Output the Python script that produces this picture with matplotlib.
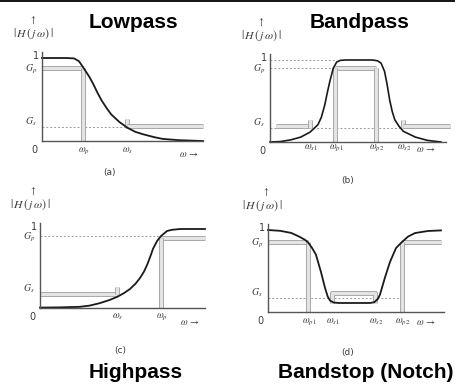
import matplotlib
matplotlib.use('Agg')
import matplotlib.pyplot as plt
import matplotlib.patheffects as pe
from matplotlib.lines import Line2D

plt.rcParams['mathtext.fontset'] = 'stix'

# ---- data (omega in arbitrary units 0..10, gain 0..1) ----
# (a) lowpass
lp_w = [0, 1.5, 2.0, 2.3, 2.55, 2.75, 2.95, 3.2, 3.45, 3.7, 4.0, 4.3, 4.8, 5.3, 5.8, 6.3, 7.0, 7.5, 8.5, 10]
lp_h = [1.0, 1.0, 0.995, 0.96, 0.89, 0.83, 0.77, 0.68, 0.58, 0.49, 0.4, 0.32, 0.23, 0.16, 0.11, 0.08,
        0.045, 0.025, 0.01, 0.0]
lp_gp, lp_gs = 0.88, 0.17
lp_edges = [2.55, 5.28]           # wp, ws
lp_ticks = [r'$\omega_p$', r'$\omega_s$']

# (b) bandpass
bp_w = [0, 0.6, 1.2, 1.8, 2.34, 2.8, 3.0, 3.2, 3.35, 3.5, 3.7, 3.9, 4.1, 4.4, 6.0, 6.3, 6.5, 6.7,
        6.85, 7.0, 7.15, 7.3, 7.55, 7.8, 8.5, 9.2, 10]
bp_h = [0.0, 0.005, 0.025, 0.06, 0.12, 0.21, 0.3, 0.45, 0.6, 0.74, 0.9, 0.975, 0.995, 1.0, 1.0, 0.99, 0.96,
        0.86, 0.7, 0.51, 0.37, 0.27, 0.19, 0.13, 0.06, 0.02, 0.0]
bp_gp, bp_gs = 0.9, 0.17
bp_edges = [2.34, 3.8, 6.2, 7.78]  # ws1, wp1, wp2, ws2
bp_ticks = [r'$\omega_{s1}$', r'$\omega_{p1}$', r'$\omega_{p2}$', r'$\omega_{s2}$']

# (c) highpass
hp_w = [0, 1.2, 2.4, 3.0, 3.6, 4.2, 4.67, 5.1, 5.45, 5.8, 6.06, 6.3, 6.5, 6.7, 6.85, 7.1, 7.33, 7.7, 8.0,
        8.5, 10]
hp_h = [0.005, 0.008, 0.015, 0.03, 0.06, 0.1, 0.14, 0.19, 0.24, 0.31, 0.38, 0.46, 0.55, 0.66, 0.75, 0.85,
        0.91, 0.975, 0.99, 1.0, 1.0]
hp_gp, hp_gs = 0.91, 0.18
hp_edges = [4.67, 7.33]           # ws, wp
hp_ticks = [r'$\omega_s$', r'$\omega_p$']

# (d) bandstop
bs_w = [0, 0.7, 1.33, 1.8, 2.14, 2.31, 2.55, 2.77, 3.06, 3.3, 3.45, 3.58, 3.8, 4.1, 5.9, 6.15, 6.35,
        6.47, 6.76, 7.05, 7.4, 7.75, 8.1, 8.5, 9.25, 10]
bs_h = [1.0, 0.99, 0.965, 0.92, 0.88, 0.85, 0.78, 0.7, 0.49, 0.29, 0.19, 0.14, 0.115, 0.11, 0.11, 0.12, 0.16,
        0.21, 0.42, 0.61, 0.78, 0.855, 0.92, 0.963, 0.988, 0.995]
bs_gp, bs_gs = 0.854, 0.17
bs_edges = [2.31, 3.7, 6.18, 7.75]  # wp1, ws1, ws2, wp2
bs_ticks = [r'$\omega_{p1}$', r'$\omega_{s1}$', r'$\omega_{s2}$', r'$\omega_{p2}$']

W, H = 456, 385
fig = plt.figure(figsize=(W / 100, H / 100), dpi=100)
fig.patch.set_facecolor('white')
fig.add_artist(Line2D([0, 1], [1 - 0.8 / H] * 2, color='black', lw=1.3, transform=fig.transFigure))

TXT = '#3c3c3c'
SPEC = dict(color='#e4e4e4', lw=2.2, solid_capstyle='butt',
            path_effects=[pe.Stroke(linewidth=3.6, foreground='#a9a9a9'), pe.Normal()])
DOT = dict(color='#9a9a9a', lw=0.7, ls=(0, (2, 2)))


def panel(ox, oy, sx, sy):
    # place an axes so that data (0,0) sits at pixel (ox, oy) and (1, 1) at (ox+sx, oy-sy)
    x0, x1, y0, y1 = -3.0, 12.5, -0.8, 1.6
    left, right = ox + x0 * sx, ox + x1 * sx
    top, bottom = oy - y1 * sy, oy - y0 * sy
    ax = fig.add_axes([left / W, 1 - bottom / H, (right - left) / W, (bottom - top) / H])
    ax.set_xlim(x0, x1)
    ax.set_ylim(y0, y1)
    ax.axis('off')
    ax.patch.set_alpha(0)
    return ax


def lab(ax, s, xy, dx, dy, size=7):
    # offsets given in pixels
    ax.annotate(s, xy=xy, xycoords='data', xytext=(dx * 0.72, dy * 0.72), textcoords='offset points',
                ha='center', va='center', color=TXT, fontsize=size)


def frame(ax, gp, gs, xend, ticks, edges, tick_dy, arrow_dy, cap, cap_x, cap_dy, hx, arr_x):
    ax.plot([0, 0], [0, 1.07], color='#555555', lw=1.0)
    ax.plot([0, xend], [0, 0], color='#555555', lw=1.0)
    lab(ax, '0', (0, 0), -8, -9)
    lab(ax, '1', (0, 1), -6, 2)
    lab(ax, r'$G_p$', (0, gp), -11, -1)
    lab(ax, r'$G_s$', (0, gs), -11, 5)
    for t, e in zip(ticks, edges):
        lab(ax, t, (e, 0), 1, tick_dy)
    lab(ax, r'$\omega\,\rightarrow$', (9.1, 0), 0, arrow_dy)
    lab(ax, r'$|\,H\,(\,j\,\omega)\,|$', (0, 1), hx, 24, size=8.5)
    lab(ax, r'$\uparrow$', (0, 1), arr_x, 38)
    lab(ax, cap, (cap_x, 0), 0, cap_dy, size=6.5)


# (a) lowpass
ax = panel(42, 141, 16.1, 83)
wp, ws = lp_edges
ax.plot([0, ws], [lp_gs, lp_gs], **DOT)
ax.plot([0, wp], [lp_gp, lp_gp], **SPEC)
ax.plot([wp, wp], [lp_gp, 0], **SPEC)
ax.plot([ws, ws], [lp_gs + 0.1, lp_gs - 0.01], **SPEC)
ax.plot([ws, 10], [lp_gs + 0.01, lp_gs + 0.01], **SPEC)
ax.plot(lp_w, lp_h, color='#1a1a1a', lw=1.3)
frame(ax, lp_gp, lp_gs, 10, lp_ticks, lp_edges, -10, -13, '(a)', 4.2, -32, -9, -9)

# (b) bandpass
ax = panel(270, 142, 17.1, 82)
ws1, wp1, wp2, ws2 = bp_edges
ax.plot([0, wp1], [1, 1], **DOT)
ax.plot([0, wp1], [bp_gp, bp_gp], **DOT)
ax.plot([0, 10.5], [bp_gs, bp_gs], **DOT)
ax.plot([wp1, wp2], [bp_gp, bp_gp], **SPEC)
ax.plot([wp1, wp1], [bp_gp, 0], **SPEC)
ax.plot([wp2, wp2], [bp_gp, 0], **SPEC)
ax.plot([0.35, ws1], [bp_gs + 0.02, bp_gs + 0.02], **SPEC)
ax.plot([ws1, ws1], [bp_gs + 0.1, bp_gs], **SPEC)
ax.plot([ws2, ws2], [bp_gs + 0.1, bp_gs], **SPEC)
ax.plot([ws2, 10.5], [bp_gs + 0.02, bp_gs + 0.02], **SPEC)
ax.plot(bp_w, bp_h, color='#1a1a1a', lw=1.2)
frame(ax, bp_gp, bp_gs, 10.3, bp_ticks, bp_edges, -6, -7, '(b)', 4.56, -38, -9, -9)

# (c) highpass
ax = panel(40, 308, 16.5, 79)
ws, wp = hp_edges
ax.plot([0, wp], [hp_gp, hp_gp], **DOT)
ax.plot([0, ws], [hp_gs, hp_gs], **SPEC)
ax.plot([ws, ws], [hp_gs + 0.09, hp_gs], **SPEC)
ax.plot([wp, 10], [hp_gp - 0.03, hp_gp - 0.03], **SPEC)
ax.plot([wp, wp], [hp_gp - 0.03, 0], **SPEC)
ax.plot(hp_w, hp_h, color='#1a1a1a', lw=1.3)
frame(ax, hp_gp, hp_gs, 10, hp_ticks, hp_edges, -9, -14, '(c)', 4.85, -43, -10, -7)

# (d) bandstop
ax = panel(268, 312, 17.3, 82)
wp1, ws1, ws2, wp2 = bs_edges
ax.plot([0, wp2], [bs_gs, bs_gs], **DOT)
ax.plot([0, wp1], [bs_gp, bs_gp], **SPEC)
ax.plot([wp1, wp1], [bs_gp, 0], **SPEC)
ax.plot([wp2, 10], [bs_gp, bs_gp], **SPEC)
ax.plot([wp2, wp2], [bs_gp, 0], **SPEC)
ax.plot([ws1, ws1, ws2, ws2], [0.11, bs_gs + 0.06, bs_gs + 0.06, 0.11], **SPEC)
ax.plot(bs_w, bs_h, color='#1a1a1a', lw=1.3)
frame(ax, bs_gp, bs_gs, 10.2, bs_ticks, bs_edges, -10, -10, '(d)', 4.6, -41, -6, -2)

# titles
tkw = dict(ha='center', va='center', fontsize=15, fontweight='bold', family='Liberation Sans')
fig.text(133 / W, 1 - 22 / H, 'Lowpass', **tkw)
fig.text(360 / W, 1 - 22 / H, 'Bandpass', **tkw)
fig.text(136 / W, 1 - 372 / H, 'Highpass', **tkw)
fig.text(366 / W, 1 - 372 / H, 'Bandstop (Notch)', **tkw)

fig.savefig('out.png', dpi=100, facecolor='white')
